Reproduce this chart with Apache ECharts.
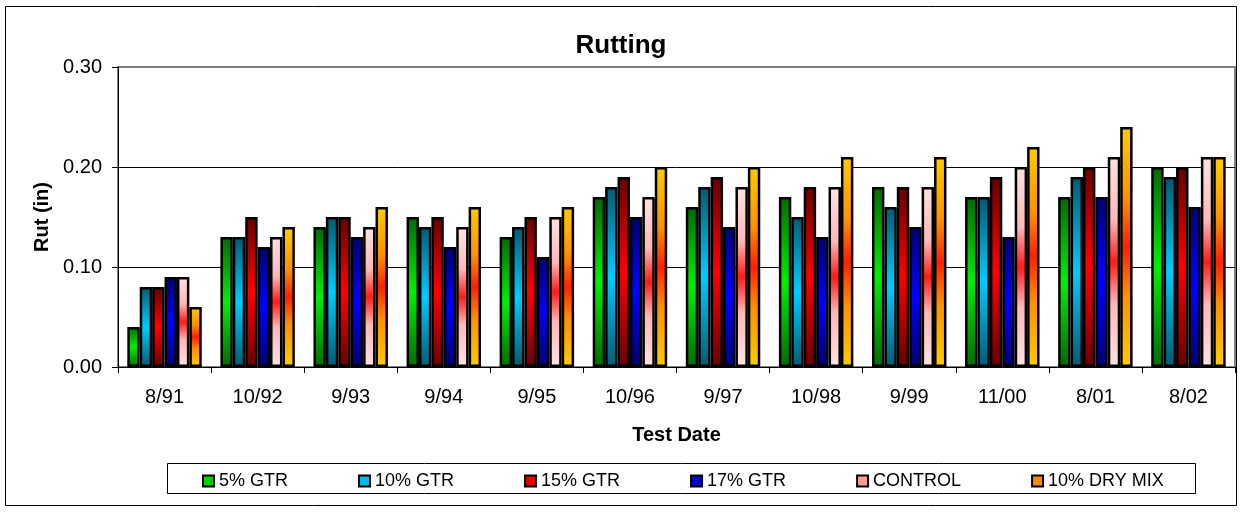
<!DOCTYPE html>
<html>
<head>
<meta charset="utf-8">
<script src="https://cdn.jsdelivr.net/npm/echarts@6/dist/echarts.min.js"></script>
<style>
	html, body { margin: 0; padding: 0; background: #fff; }
	#main { width: 1242px; height: 512px; }
</style>
</head>
<body>
<div id="main"></div>
<script>
var categories = ['8/91', '10/92', '9/93', '9/94', '9/95', '10/96', '9/97', '10/98', '9/99', '11/00', '8/01', '8/02'];
var seriesNames = ['5% GTR', '10% GTR', '15% GTR', '17% GTR', 'CONTROL', '10% DRY MIX'];
var gtr5 = [0.04, 0.13, 0.14, 0.15, 0.13, 0.17, 0.16, 0.17, 0.18, 0.17, 0.17, 0.20];
var gtr10 = [0.08, 0.13, 0.15, 0.14, 0.14, 0.18, 0.18, 0.15, 0.16, 0.17, 0.19, 0.19];
var gtr15 = [0.08, 0.15, 0.15, 0.15, 0.15, 0.19, 0.19, 0.18, 0.18, 0.19, 0.20, 0.20];
var gtr17 = [0.09, 0.12, 0.13, 0.12, 0.11, 0.15, 0.14, 0.13, 0.14, 0.13, 0.17, 0.16];
var control = [0.09, 0.13, 0.14, 0.14, 0.15, 0.17, 0.18, 0.18, 0.18, 0.20, 0.21, 0.21];
var dryMix = [0.06, 0.14, 0.16, 0.16, 0.16, 0.20, 0.20, 0.21, 0.21, 0.22, 0.24, 0.21];
var allData = [gtr5, gtr10, gtr15, gtr17, control, dryMix];

// gradient stops per series (dark edge -> bright centre)
var gradStops = [
	[[0, '#006a00'], [0.5, '#00f000'], [1, '#006a00']],
	[[0, '#005a72'], [0.5, '#00ccff'], [1, '#005a72']],
	[[0, '#660000'], [0.5, '#ff0000'], [1, '#660000']],
	[[0, '#000070'], [0.5, '#0000ff'], [1, '#000070']],
	[[0, '#ffe2e2'], [0.3, '#ffb8b8'], [0.5, '#ff1a1a'], [0.7, '#ffb8b8'], [1, '#ffe2e2']],
	[[0, '#ffcc00'], [0.3, '#ff9000'], [0.5, '#ff2000'], [0.7, '#ff9000'], [1, '#ffcc00']]
];
var legendColors = ['#00d000', '#00b8e8', '#e00000', '#0000d0', '#ff9a9a', '#ff8800'];

var FONT = 'Liberation Sans, Arial, sans-serif';
var myChart = echarts.init(document.getElementById('main'));

var series = [];
for (var i = 0; i < seriesNames.length; i++) {
	var stops = gradStops[i].map(function(s) { return { offset: s[0], color: s[1] }; });
	series.push({
		name: seriesNames[i],
		type: 'bar',
		data: allData[i],
		barGap: '0%',
		barCategoryGap: '20%',
		itemStyle: {
			color: new echarts.graphic.LinearGradient(0, 0, 0, 1, stops),
			borderColor: '#000',
			borderWidth: 2.5
		},
		emphasis: { disabled: true }
	});
}

var option = {
	animation: false,
	backgroundColor: '#fff',
	textStyle: { fontFamily: FONT },
	title: {
		text: 'Rutting',
		left: 'center',
		top: 28,
		textStyle: { fontFamily: FONT, fontSize: 26, fontWeight: 'bold', color: '#000' }
	},
	grid: {
		left: 118,
		right: 7,
		top: 67,
		bottom: 145,
		show: true,
		borderColor: '#808080',
		borderWidth: 2,
		backgroundColor: '#fff'
	},
	legend: {
		left: 197,
		top: 467,
		itemWidth: 11,
		itemHeight: 11,
		itemGap: 70,
		icon: 'rect',
		textStyle: { fontFamily: FONT, fontSize: 18, color: '#000' },
		data: seriesNames.map(function(n, k) {
			return { name: n, itemStyle: { color: legendColors[k], borderColor: '#000', borderWidth: 2 } };
		})
	},
	xAxis: {
		type: 'category',
		data: categories,
		name: 'Test Date',
		nameLocation: 'middle',
		nameGap: 58,
		nameTextStyle: { fontFamily: FONT, fontSize: 20, fontWeight: 'bold', color: '#000' },
		axisLine: { lineStyle: { color: '#000', width: 1 } },
		axisTick: { show: true, alignWithLabel: false, length: 6, lineStyle: { color: '#000' } },
		axisLabel: { margin: 20, fontSize: 20, color: '#000', fontFamily: FONT, interval: 0 }
	},
	yAxis: {
		type: 'value',
		min: 0,
		max: 0.3,
		interval: 0.1,
		name: 'Rut (in)',
		nameLocation: 'middle',
		nameGap: 66,
		nameRotate: 90,
		nameTextStyle: { fontFamily: FONT, fontSize: 20, fontWeight: 'bold', color: '#000' },
		axisLine: { show: true, lineStyle: { color: '#000', width: 1 } },
		axisTick: { show: true, length: 6, lineStyle: { color: '#000' } },
		axisLabel: {
			margin: 16, fontSize: 20, color: '#000', fontFamily: FONT,
			formatter: function(v) { return v.toFixed(2); }
		},
		splitLine: { show: true, lineStyle: { color: ['#000', '#000', '#000', '#808080'], width: 1 } }
	},
	graphic: [
		{
			type: 'rect',
			shape: { x: 5.5, y: 6.5, width: 1231, height: 499 },
			style: { fill: null, stroke: '#000', lineWidth: 1 },
			silent: true,
			z: -10
		},
		{
			type: 'rect',
			shape: { x: 167.5, y: 463.5, width: 1028, height: 30 },
			style: { fill: null, stroke: '#000', lineWidth: 1 },
			silent: true,
			z: 10
		}
	],
	series: series
};
myChart.setOption(option);
</script>
</body>
</html>
